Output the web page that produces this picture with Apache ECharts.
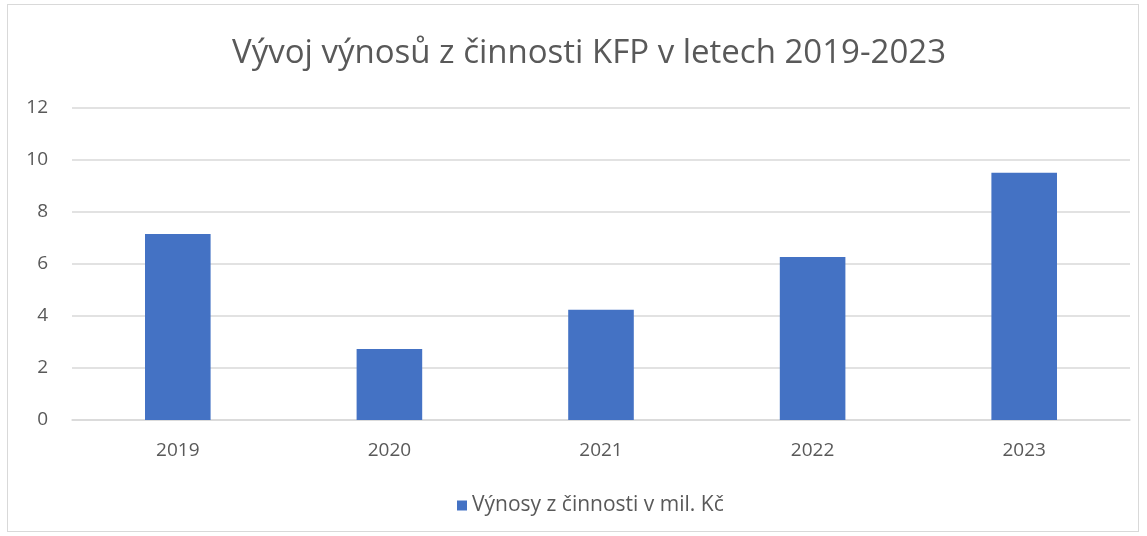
<!DOCTYPE html>
<html>
<head>
<meta charset="utf-8">
<script src="https://cdn.jsdelivr.net/npm/echarts@6/dist/echarts.min.js"></script>
<style>
  html, body { margin: 0; padding: 0; background: #fff; }
  #frame { position: absolute; left: 7px; top: 4px; width: 1132px; height: 528px; border: 1px solid #d9d9d9; box-sizing: border-box; }
  #chart { position: absolute; left: 0; top: 0; width: 1147px; height: 536px; }
</style>
</head>
<body>
<div id="frame"></div>
<div id="chart"></div>
<script>
// data
var years = ["2019", "2020", "2021", "2022", "2023"];
var vynosy = [7.15, 2.73, 4.24, 6.27, 9.51];
var seriesName = "Výnosy z činnosti v mil. Kč";
var titleText = "Vývoj výnosů z činnosti KFP v letech 2019-2023";

var myChart = echarts.init(document.getElementById("chart"));
var textColor = "#595959";
var fontFam = "'Open Sans', 'Noto Sans', sans-serif";

var option = {
  animation: false,
  title: {
    text: titleText,
    left: 227,
    top: 32,
    textStyle: { fontFamily: fontFam, fontSize: 33, fontWeight: "normal", color: textColor }
  },
  legend: {
    data: [seriesName],
    bottom: 15,
    left: 452,
    icon: "rect",
    itemWidth: 10,
    itemHeight: 10,
    itemGap: 8,
    textStyle: { fontFamily: fontFam, fontSize: 21, color: textColor }
  },
  grid: { left: 72, right: 17, top: 108, bottom: 116, containLabel: false },
  xAxis: {
    type: "category",
    data: years,
    axisTick: { show: false },
    axisLine: { lineStyle: { color: "#d9d9d9", width: 1.5 } },
    axisLabel: { fontFamily: fontFam, fontSize: 19, color: textColor, margin: 21 }
  },
  yAxis: {
    type: "value",
    min: 0,
    max: 12,
    interval: 2,
    axisLine: { show: false },
    axisTick: { show: false },
    splitLine: { lineStyle: { color: "#d9d9d9", width: 1.5 } },
    axisLabel: { fontFamily: fontFam, fontSize: 19, color: textColor, margin: 24 }
  },
  series: [
    {
      name: seriesName,
      type: "bar",
      data: vynosy,
      barWidth: "31%",
      itemStyle: { color: "#4472C4" }
    }
  ]
};

myChart.setOption(option);
</script>
</body>
</html>
